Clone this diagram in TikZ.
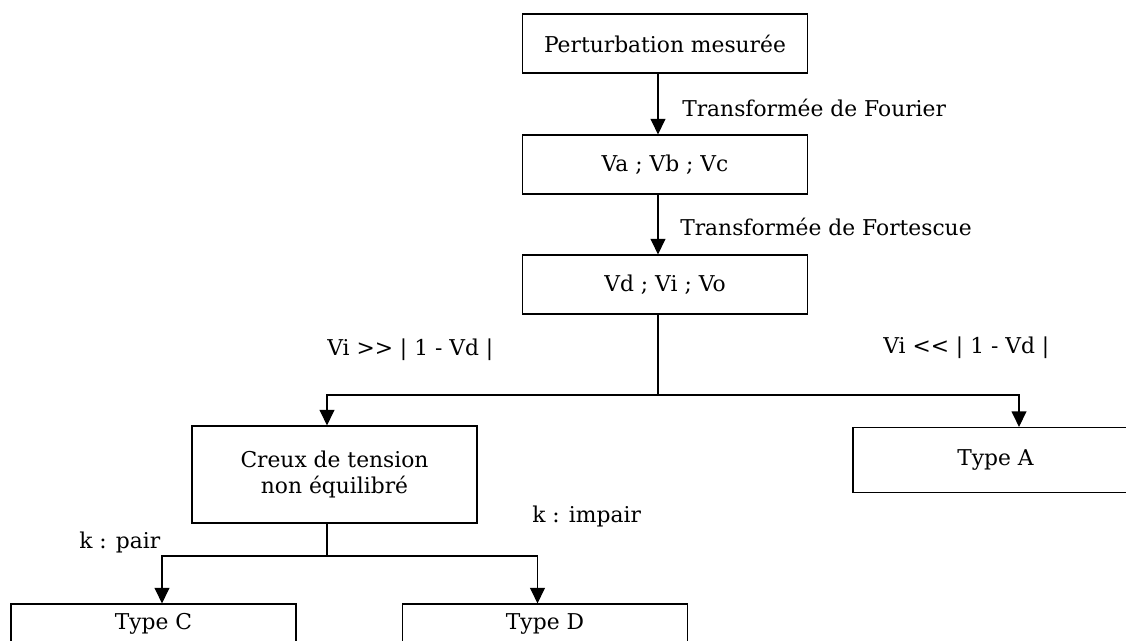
\documentclass[tikz,border=0pt]{standalone}
\usepackage{fontspec}
\setmainfont{DejaVu Serif}
\usetikzlibrary{arrows.meta}

\begin{document}
\begin{tikzpicture}[auto, node distance=3cm,
	bloc/.style={rectangle,draw,line width=0.8pt,minimum width=7.125cm,minimum height=1.475cm,font=\fontsize{15.5}{19}\selectfont},
	etiquette/.style={inner sep=0pt,font=\fontsize{15.5}{19}\selectfont},
	fleche/.style={line width=0.8pt,-{Triangle[length=11pt,width=10.5pt]}}]
	\useasboundingbox (0,0) rectangle (28.15,-16.025);
	\clip (0,0) rectangle (28.15,-16.025);
	% Place nodes
	\node [bloc] (pert) at (16.625,-1.0875) {Perturbation mesurée};
	\node [bloc,below of=pert,node distance=3.025cm] (vabc) {Va ; Vb ; Vc};
	\node [bloc,below of=vabc] (vdio) {Vd ; Vi ; Vo};
	\node [bloc,minimum height=2.425cm,align=center] (creux) at (8.3625,-11.8625) {Creux de tension\\non équilibré};
	\node [bloc,minimum height=1.625cm] (typeA) at (24.8875,-11.5) {Type A};
	\node [bloc,minimum height=1cm] (typeC) at (3.8375,-15.6) {Type C};
	\node [bloc,minimum height=1cm] (typeD) at (13.625,-15.6) {Type D};

	% Labels
	\node [etiquette,anchor=west] (lblfourier) at (17.05,-2.7) {Transformée de Fourier};
	\node [etiquette,anchor=west] (lblfortescue) at (17.0,-5.67) {Transformée de Fortescue};
	\node [etiquette,anchor=west] (lblgrand) at (8.175,-8.75) {Vi >{}> | 1 - Vd |};
	\node [etiquette,anchor=west] (lblpetit) at (22.075,-8.7) {Vi <{}< | 1 - Vd |};
	\node [etiquette,anchor=west] (lblpair) at (1.975,-13.55) {k : pair};
	\node [etiquette,anchor=west] (lblimpair) at (13.3,-12.9) {k : impair};

	% Connectors
	\coordinate (split1) at (16.45,-9.875);
	\coordinate (split2) at (8.175,-13.9);
	\draw [fleche] ([xshift=-1.75mm]pert.south) -- ([xshift=-1.75mm]vabc.north);
	\draw [fleche] ([xshift=-1.75mm]vabc.south) -- ([xshift=-1.75mm]vdio.north);
	\draw [line width=0.8pt] (vdio.south -| split1) -- (split1);
	\draw [fleche] (split1) -| ([xshift=-1.875mm]creux.north);
	\draw [fleche] (split1) -| ([xshift=5.875mm]typeA.north);
	\draw [line width=0.8pt] (creux.south -| split2) -- (split2);
	\draw [fleche] (split2) -| ([xshift=2.125mm]typeC.north);
	\draw [fleche] (split2) -| ([xshift=-1.875mm]typeD.north);
\end{tikzpicture}
\end{document}
